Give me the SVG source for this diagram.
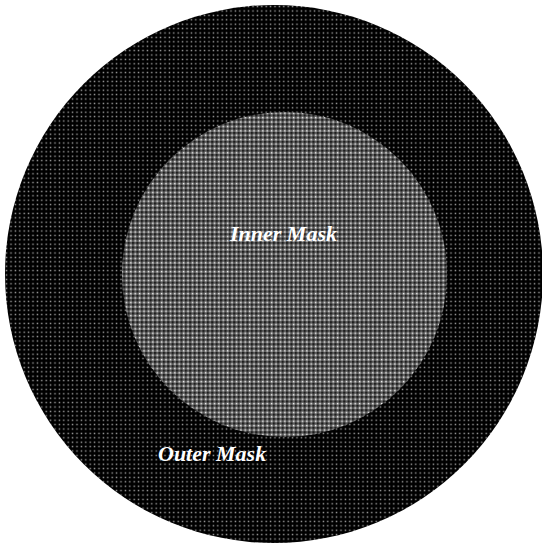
<svg xmlns="http://www.w3.org/2000/svg" width="542" height="545" viewBox="0 0 542 545">
<style>
.lbl{font-family:"Liberation Serif",serif;font-weight:bold;font-style:italic;font-size:22px;fill:#fff}
</style>
<defs>
<pattern id="outerPat" width="4.4" height="4.4" patternUnits="userSpaceOnUse">
<rect width="4.4" height="4.4" fill="#000"/>
<rect x="1.5" y="1.5" width="1.4" height="1.4" fill="#a8a8a8"/>
</pattern>
<pattern id="innerPat" width="4.4" height="4.4" patternUnits="userSpaceOnUse">
<rect width="4.4" height="4.4" fill="#5a5a5a"/>
<rect x="0" y="0" width="2.2" height="2.2" fill="#1e1e1e"/>
<rect x="2.2" y="2.2" width="2.2" height="2.2" fill="#8e8e8e"/>
<rect x="2.6" y="2.6" width="1.2" height="1.2" fill="#f0f0f0"/>
</pattern>
</defs>
<rect width="542" height="545" fill="#fff"/>
<g id="outer">
<circle cx="274" cy="274" r="269" fill="url(#outerPat)"/>
<text class="lbl" x="158" y="461">Outer Mask</text>
</g>
<g id="inner">
<circle cx="284.5" cy="274.5" r="162.5" fill="url(#innerPat)"/>
<text class="lbl" x="230" y="241">Inner Mask</text>
</g>
<g id="connectors"/>
</svg>
